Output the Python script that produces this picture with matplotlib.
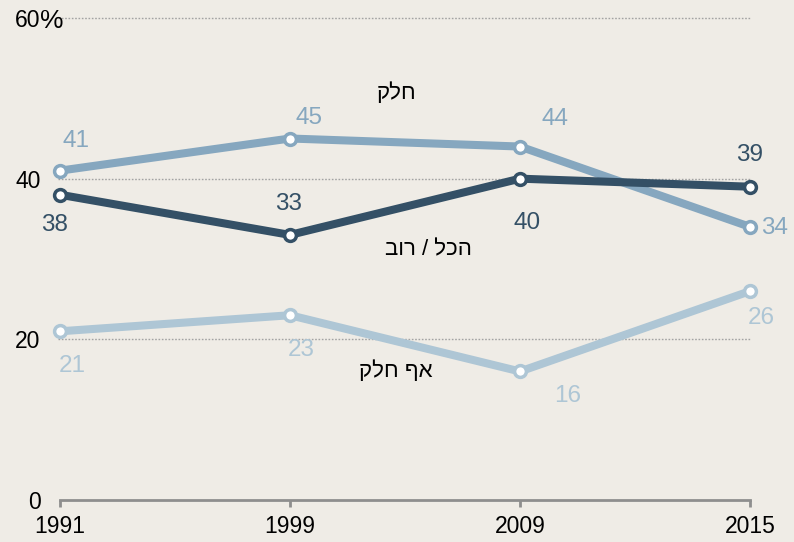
import matplotlib.pyplot as plt

# -------------------------
# Data
# -------------------------
years = ["1991", "1999", "2009", "2015"]
some = [41, 45, 44, 34]          # חלק
all_most = [38, 33, 40, 39]      # הכל / רוב
none = [21, 23, 16, 26]          # אף חלק

label_some = "חלק"
label_all_most = "הכל / רוב"
label_none = "אף חלק"

# -------------------------
# Style
# -------------------------
BG = "#EFECE6"
C_DARK = "#345066"
C_MID = "#86A7BF"
C_LIGHT = "#AEC6D5"
FONT = ["Liberation Sans", "DejaVu Sans"]
plt.rcParams["font.family"] = FONT


def rtl(s):
    # matplotlib has no bidi support: reverse Hebrew for visual order
    return s[::-1]


fig = plt.figure(figsize=(7.94, 5.42), dpi=100, facecolor=BG)
ax = fig.add_axes([60 / 794, 42 / 542, 690 / 794, 482 / 542], facecolor=BG)

x = list(range(len(years)))

# grid lines
for v in [20, 40, 60]:
    ax.axhline(v, xmin=-2 / 690, xmax=1, color="#A3A3A3", lw=1,
               linestyle=(0, (1.2, 1.2)), zorder=1, clip_on=False)

series = [
    (some, C_MID, 3),
    (none, C_LIGHT, 3),
    (all_most, C_DARK, 4),
]
for vals, col, z in series:
    ax.plot(x, vals, color=col, lw=5.8, solid_capstyle="butt", zorder=z,
            marker="o", markersize=8.5, markerfacecolor="white",
            markeredgecolor=col, markeredgewidth=2.5, clip_on=False)

# value labels (offsets in pixels from each point)
offs_some = [(16, 30), (19, 21), (35, 28), (25, -1)]
offs_all = [(-6, -30), (-1, 31), (7, -44), (0, 32)]
offs_none = [(12, -35), (11, -35), (48, -25), (11, -27)]

for vals, offs, col in [(some, offs_some, C_MID),
                        (all_most, offs_all, C_DARK),
                        (none, offs_none, C_LIGHT)]:
    for i, (v, (dx, dy)) in enumerate(zip(vals, offs)):
        ax.annotate(str(v), xy=(i, v), xytext=(dx, dy),
                    textcoords="offset pixels", ha="center", va="center",
                    fontsize=17.5, color=col, zorder=6)

# series names
ax.annotate(rtl(label_some), xy=(0, 0), xycoords="axes pixels",
            xytext=(397 - 60, 500 - 93), textcoords="axes pixels",
            ha="center", va="center", fontsize=16, color="black")
ax.annotate(rtl(label_all_most), xy=(0, 0), xycoords="axes pixels",
            xytext=(428 - 60, 500 - 250), textcoords="axes pixels",
            ha="center", va="center", fontsize=16, color="black")
ax.annotate(rtl(label_none), xy=(0, 0), xycoords="axes pixels",
            xytext=(396 - 60, 500 - 371), textcoords="axes pixels",
            ha="center", va="center", fontsize=16, color="black")

# axes
ax.set_xlim(0, 3)
ax.set_ylim(0, 60)
for s in ["top", "right", "left"]:
    ax.spines[s].set_visible(False)
ax.spines["bottom"].set_color("#8E8E8E")
ax.spines["bottom"].set_linewidth(2)
ax.spines["bottom"].set_zorder(2)

ax.set_xticks(x)
ax.set_xticklabels(years, fontsize=16.5)
ax.tick_params(axis="x", length=5, width=2, color="#8E8E8E", pad=6)

ax.set_yticks([0, 20, 40, 60])
ax.set_yticklabels(["0", "20", "40", "60"], fontsize=16.5)
ax.tick_params(axis="y", length=0, pad=14)
ax.annotate("%", xy=(0, 60), xycoords=("axes fraction", "data"),
            xytext=(-20, -3), textcoords="offset pixels",
            ha="left", va="center", fontsize=19)

fig.savefig("out.png", dpi=100, facecolor=BG)
